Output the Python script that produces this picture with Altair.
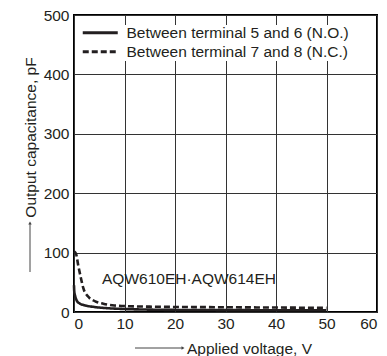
import altair as alt
import pandas as pd

series_names = ["Between terminal 5 and 6 (N.O.)", "Between terminal 7 and 8 (N.C.)"]
no_voltage = [0, 0.05, 0.2, 0.5, 1, 2, 4, 6.5, 10, 15, 20, 30, 40, 50]
no_capacitance = [45, 35, 28, 20, 15, 11.5, 8.5, 6.5, 5, 4, 3.5, 3.2, 3, 3]
nc_voltage = [0, 0.4, 0.85, 1.4, 1.85, 2.8, 4.2, 5.8, 8, 10, 15, 20, 30, 40, 50]
nc_capacitance = [102, 98, 78, 56, 40, 26, 18, 14, 11, 10, 9, 8.5, 8, 7.5, 7]
x_ticks = [0, 10, 20, 30, 40, 50, 60]
y_ticks = [0, 100, 200, 300, 400, 500]
annotation = "AQW610EH·AQW614EH"

rows = []
for v, c in zip(no_voltage, no_capacitance):
    rows.append({"V": v, "C": c, "series": series_names[0]})
for v, c in zip(nc_voltage, nc_capacitance):
    rows.append({"V": v, "C": c, "series": series_names[1]})
df = pd.DataFrame(rows)

FONT = "Liberation Sans"
INK = "#231f20"

lines = alt.Chart(df).mark_line(color=INK, strokeWidth=2.6, interpolate="monotone").encode(
    x=alt.X("V:Q", scale=alt.Scale(domain=[0, 60], nice=False),
            axis=alt.Axis(values=x_ticks, title="Applied voltage, V", titleX=175, titleY=36,
                          titleAlign="center", titleBaseline="middle", labelPadding=4)),
    y=alt.Y("C:Q", scale=alt.Scale(domain=[0, 500], nice=False),
            axis=alt.Axis(values=y_ticks, title="Output capacitance, pF", titleX=-44, titleY=122,
                          titleAlign="center", titleBaseline="middle", titleAngle=-90, labelPadding=5)),
    strokeDash=alt.StrokeDash("series:N", scale=alt.Scale(domain=series_names, range=[[1, 0], [6, 3]]),
                              legend=alt.Legend(title=None, orient="none", legendX=18.5, legendY=10,
                                                symbolType="M-3.5,0H3.5", symbolSize=100,
                                                symbolStrokeWidth=3, symbolStrokeColor=INK,
                                                labelOffset=18.5, rowPadding=2, padding=0)),
    order=alt.Order("V:Q"),
)

note = alt.Chart(pd.DataFrame({"t": [annotation]})).mark_text(
    font=FONT, fontSize=15.5, color=INK, align="left", baseline="middle"
).encode(x=alt.value(28), y=alt.value(264), text="t:N")

y_arrow = alt.Chart(pd.DataFrame({"a": [1]})).mark_rule(color="#444", strokeWidth=1).encode(
    x=alt.value(-44), y=alt.value(209), y2=alt.value(257))
y_head = alt.Chart(pd.DataFrame({"a": [1]})).mark_point(shape="triangle-up", filled=True, size=12,
                                                          color="#444", opacity=1).encode(
    x=alt.value(-44), y=alt.value(208))
x_arrow = alt.Chart(pd.DataFrame({"a": [1]})).mark_rule(color="#444", strokeWidth=1).encode(
    x=alt.value(61), x2=alt.value(108), y=alt.value(333))
x_head = alt.Chart(pd.DataFrame({"a": [1]})).mark_point(shape="triangle-right", filled=True, size=12,
                                                          color="#444", opacity=1).encode(
    x=alt.value(109), y=alt.value(333))

chart = alt.layer(lines, note, y_arrow, y_head, x_arrow, x_head).properties(
    width=303, height=297,
    autosize=alt.AutoSizeParams(type="none"),
    padding={"left": 66, "top": 7, "right": 2, "bottom": 44},
).configure_view(
    stroke="black", strokeWidth=2
).configure_axis(
    domain=False, ticks=False, grid=True, gridColor="#333", gridWidth=1, gridOpacity=1,
    labelFont=FONT, labelFontSize=15.5, labelColor=INK,
    titleFont=FONT, titleFontSize=15.5, titleColor=INK, titleFontWeight="normal",
).configure_legend(
    labelFont=FONT, labelFontSize=15.5, labelColor=INK, labelLimit=400,
    fillColor="white",
)

chart.save("out.html", embed_options={"renderer": "svg", "actions": False})
